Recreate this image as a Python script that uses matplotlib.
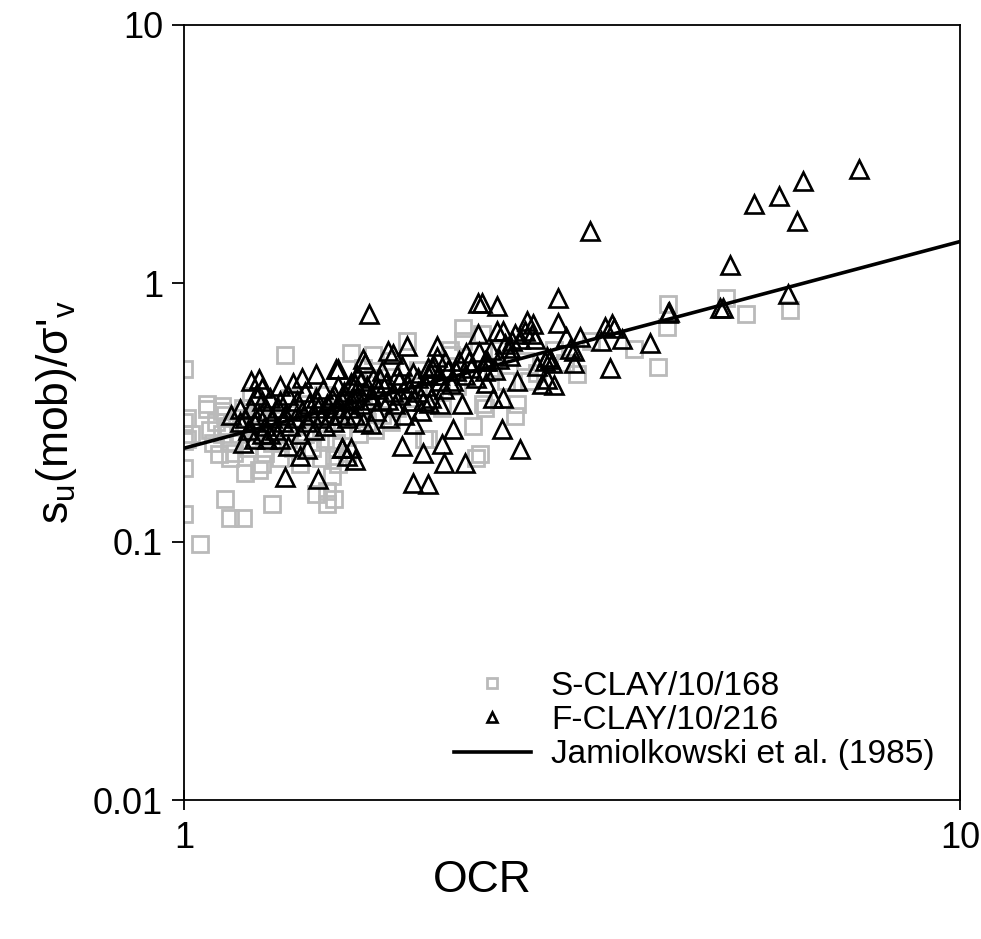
import matplotlib
matplotlib.use("Agg")
import matplotlib.pyplot as plt
import numpy as np

plt.rcParams['font.family'] = ['Liberation Sans', 'DejaVu Sans']
plt.rcParams['mathtext.fontset'] = 'custom'
plt.rcParams['mathtext.rm'] = 'Liberation Sans'
plt.rcParams['mathtext.it'] = 'Liberation Sans'

# ---------------- data ----------------
s_clay_ocr = [1.00, 1.01, 1.00, 1.02, 1.00, 1.01, 1.00, 1.00, 1.05,
              1.07, 1.07, 1.12, 1.12, 1.13, 1.146, 1.19, 1.30, 1.35, 1.22,
              1.11, 1.146, 1.20, 1.25, 1.48, 1.53, 1.53, 1.55, 1.56, 1.58, 1.56,
              1.08, 1.10, 1.12, 1.14, 1.15, 1.17, 1.18, 1.20, 1.21, 1.23, 1.24, 1.25,
              1.27, 1.28, 1.30, 1.31, 1.33, 1.34, 1.36, 1.38, 1.40, 1.41, 1.43, 1.45,
              1.46, 1.48, 1.50, 1.52, 1.55, 1.57, 1.60, 1.62, 1.65, 1.68, 1.16, 1.26,
              1.09, 1.13, 1.19, 1.29, 1.37, 1.44, 1.51, 1.58, 1.63, 1.70, 1.72, 1.76,
              1.80, 1.85, 1.88, 1.64, 1.75,
              1.94, 2.29, 2.29, 2.20, 1.70, 1.75, 1.85, 2.00, 2.06, 2.36, 2.38, 2.42,
              2.44, 2.41, 2.67, 2.69, 2.60, 2.10, 2.25, 1.95, 2.15, 2.50, 2.55, 2.75,
              2.85, 3.00, 3.10, 2.43, 2.21, 2.78, 2.04,
              3.21, 3.35, 3.80, 4.08, 4.19, 4.20, 5.00, 5.30, 6.04]
s_clay_su = [0.465, 0.30, 0.29, 0.26, 0.245, 0.25, 0.193, 0.128, 0.098,
             0.34, 0.325, 0.335, 0.32, 0.146, 0.123, 0.123, 0.14, 0.53, 0.365,
             0.218, 0.21, 0.184, 0.19, 0.153, 0.14, 0.157, 0.18, 0.146, 0.20, 0.214,
             0.27, 0.29, 0.26, 0.28, 0.24, 0.30, 0.26, 0.28, 0.23, 0.25, 0.31, 0.27,
             0.22, 0.29, 0.24, 0.26, 0.21, 0.30, 0.25, 0.23, 0.28, 0.20, 0.26, 0.31,
             0.23, 0.27, 0.21, 0.25, 0.29, 0.24, 0.27, 0.22, 0.30, 0.26, 0.22, 0.20,
             0.24, 0.31, 0.33, 0.34, 0.36, 0.34, 0.37, 0.33, 0.36, 0.33, 0.29, 0.27,
             0.31, 0.29, 0.33, 0.536, 0.53,
             0.597, 0.67, 0.60, 0.55, 0.47, 0.43, 0.50, 0.46, 0.25, 0.28, 0.21, 0.635,
             0.33, 0.218, 0.306, 0.34, 0.42, 0.38, 0.40, 0.36, 0.33, 0.47, 0.55, 0.50,
             0.45, 0.55, 0.49, 0.34, 0.53, 0.418, 0.25,
             0.445, 0.597, 0.555, 0.473, 0.676, 0.83, 0.875, 0.76, 0.79]

f_clay_ocr = [3.34, 5.43, 5.84, 6.27, 6.16, 7.42, 5.06, 6.00, 4.90, 4.95,
              4.20, 4.22, 3.99, 3.54, 3.49, 3.56, 3.58, 3.67, 3.45, 3.24,
              3.11, 3.18, 3.18, 3.03, 3.03,
              2.53, 2.42, 2.77, 2.82, 2.75, 2.81, 2.53, 2.58, 2.67, 2.71,
              2.83, 3.14, 2.96, 2.92, 2.98, 2.94, 2.85, 2.89, 3.00, 2.94,
              2.69, 2.44, 2.46, 2.55, 2.63, 2.63, 2.59, 2.65, 2.50, 2.58,
              2.57, 2.71,
              2.22, 2.15, 2.03, 1.91, 2.16, 2.30, 1.97, 2.06, 1.60, 1.64,
              1.66, 1.98, 1.74,
              1.73, 2.39, 2.39, 1.94, 1.83, 1.86, 2.12, 2.12, 2.17, 1.70,
              1.71, 1.58, 1.80, 1.91, 2.06, 2.09, 2.31, 2.33, 2.44, 2.24,
              1.66, 1.79, 1.89, 1.94, 2.00, 2.06, 2.14, 2.21, 2.28, 2.14,
              2.03, 2.07, 1.96, 1.87, 1.83, 1.74, 1.64, 1.56,
              1.35, 1.49, 1.19,
              1.25, 1.26, 1.18, 1.33, 1.48, 1.57, 1.69, 1.36, 1.41, 1.44,
              1.60, 1.62, 1.28, 1.26, 1.23,
              1.20, 1.22, 1.23, 1.25, 1.26, 1.27, 1.28, 1.29, 1.30, 1.31,
              1.32, 1.33, 1.34, 1.35, 1.36, 1.37, 1.38, 1.39, 1.40, 1.41,
              1.42, 1.43, 1.44, 1.45, 1.46, 1.47, 1.48, 1.49, 1.50, 1.51,
              1.52, 1.53, 1.54, 1.55, 1.56, 1.57, 1.58, 1.59, 1.60, 1.61,
              1.62, 1.63, 1.64, 1.65, 1.66, 1.67, 1.68, 1.69, 1.70, 1.72,
              1.74, 1.75, 1.77, 1.78, 1.80, 1.82, 1.84, 1.86, 1.88, 1.90,
              1.92, 1.95, 1.97, 2.00, 2.02, 2.05, 2.08, 2.10, 2.13, 2.16,
              2.19, 2.22, 2.26, 2.30, 2.34, 2.38, 2.40, 2.45, 2.49, 2.52,
              1.21, 1.24, 1.29, 1.33, 1.38, 1.42, 1.18, 1.15, 1.22]
f_clay_su = [1.59, 2.02, 2.17, 2.48, 1.75, 2.76, 1.18, 0.906, 0.80, 0.80,
             0.765, 0.775, 0.586, 0.47, 0.68, 0.694, 0.67, 0.607, 0.597, 0.62,
             0.62, 0.546, 0.49, 0.875, 0.70,
             0.815, 0.837, 0.713, 0.694, 0.652, 0.635, 0.652, 0.652, 0.635, 0.607,
             0.61, 0.555, 0.51, 0.50, 0.49, 0.52, 0.478, 0.407, 0.404, 0.425,
             0.418, 0.457, 0.50, 0.508, 0.522, 0.56, 0.58, 0.597, 0.36, 0.36,
             0.272, 0.228,
             0.272, 0.239, 0.22, 0.234, 0.201, 0.201, 0.168, 0.167, 0.23, 0.23,
             0.208, 0.285, 0.285,
             0.76, 0.837, 0.635, 0.57, 0.546, 0.535, 0.57, 0.52, 0.50, 0.51,
             0.49, 0.465, 0.457, 0.478, 0.47, 0.47, 0.536, 0.50, 0.50, 0.457,
             0.407, 0.425, 0.418, 0.41, 0.43, 0.44, 0.418, 0.407, 0.34, 0.34,
             0.35, 0.345, 0.35, 0.34, 0.355, 0.355, 0.355, 0.37,
             0.178, 0.175, 0.24,
             0.425, 0.393, 0.325, 0.40, 0.445, 0.465, 0.418, 0.235, 0.214, 0.228,
             0.23, 0.215, 0.25, 0.26, 0.25,
             0.30, 0.33, 0.29, 0.31, 0.35, 0.28, 0.32, 0.36, 0.30, 0.27,
             0.33, 0.35, 0.29, 0.31, 0.37, 0.28, 0.33, 0.30, 0.35, 0.26,
             0.32, 0.38, 0.29, 0.34, 0.31, 0.27, 0.36, 0.33, 0.30, 0.39,
             0.28, 0.34, 0.31, 0.36, 0.29, 0.33, 0.40, 0.31, 0.35, 0.38,
             0.30, 0.33, 0.41, 0.36, 0.31, 0.44, 0.38, 0.34, 0.29, 0.40,
             0.37, 0.43, 0.32, 0.39, 0.35, 0.41, 0.30, 0.38, 0.44, 0.37,
             0.31, 0.39, 0.45, 0.38, 0.32, 0.40, 0.36, 0.48, 0.44, 0.39,
             0.46, 0.42, 0.50, 0.44, 0.47, 0.43, 0.54, 0.41, 0.55, 0.46,
             0.27, 0.37, 0.26, 0.25, 0.41, 0.43, 0.29, 0.31, 0.42]

# Jamiolkowski et al. (1985): su/sigma'v = 0.23 * OCR^0.8
jam_coef = 0.23
jam_exp = 0.8
jam_ocr = np.array([1.0, 10.0])

# ---------------- plot ----------------
fig = plt.figure(figsize=(9.81, 9.39), dpi=100)
ax = fig.add_axes([184/981, 1-800/939, 776/981, 775/939])

ax.plot(s_clay_ocr, s_clay_su, linestyle='none', marker='s', markersize=11,
        markerfacecolor='none', markeredgecolor='#bababa', markeredgewidth=2.0,
        label='S-CLAY/10/168', zorder=2)
ax.plot(f_clay_ocr, f_clay_su, linestyle='none', marker='^', markersize=13,
        markerfacecolor='none', markeredgecolor='black', markeredgewidth=1.9,
        label='F-CLAY/10/216', zorder=3)
ax.plot(jam_ocr, jam_coef * jam_ocr**jam_exp, color='black', linewidth=2.6,
        label='Jamiolkowski et al. (1985)', zorder=4)

ax.set_xscale('log')
ax.set_yscale('log')
ax.set_xlim(1, 10)
ax.set_ylim(0.01, 10)
ax.set_xticks([1, 10])
ax.set_xticklabels(['1', '10'])
ax.set_yticks([0.01, 0.1, 1, 10])
ax.set_yticklabels(['0.01', '0.1', '1', '10'])
ax.minorticks_off()
ax.tick_params(axis='x', direction='inout', length=14, width=1.3, labelsize=26, pad=8)
ax.tick_params(axis='y', direction='out', length=9, width=1.3, labelsize=26, pad=6)
for sp in ax.spines.values():
    sp.set_linewidth(1.3)

ax.set_xlabel('OCR', fontsize=32)
ax.xaxis.set_label_coords(0.384, -0.078)
ax.set_ylabel(r"s$_\mathrm{u}$(mob)/σ'$_\mathrm{v}$", fontsize=32, labelpad=10)

leg = ax.legend(loc='lower left', bbox_to_anchor=(0.318, 0.008), frameon=False,
                fontsize=24, markerscale=0.6, handlelength=2.3, handletextpad=0.6,
                labelspacing=0.1, borderpad=0.2)

fig.savefig('out.png', dpi=100)
